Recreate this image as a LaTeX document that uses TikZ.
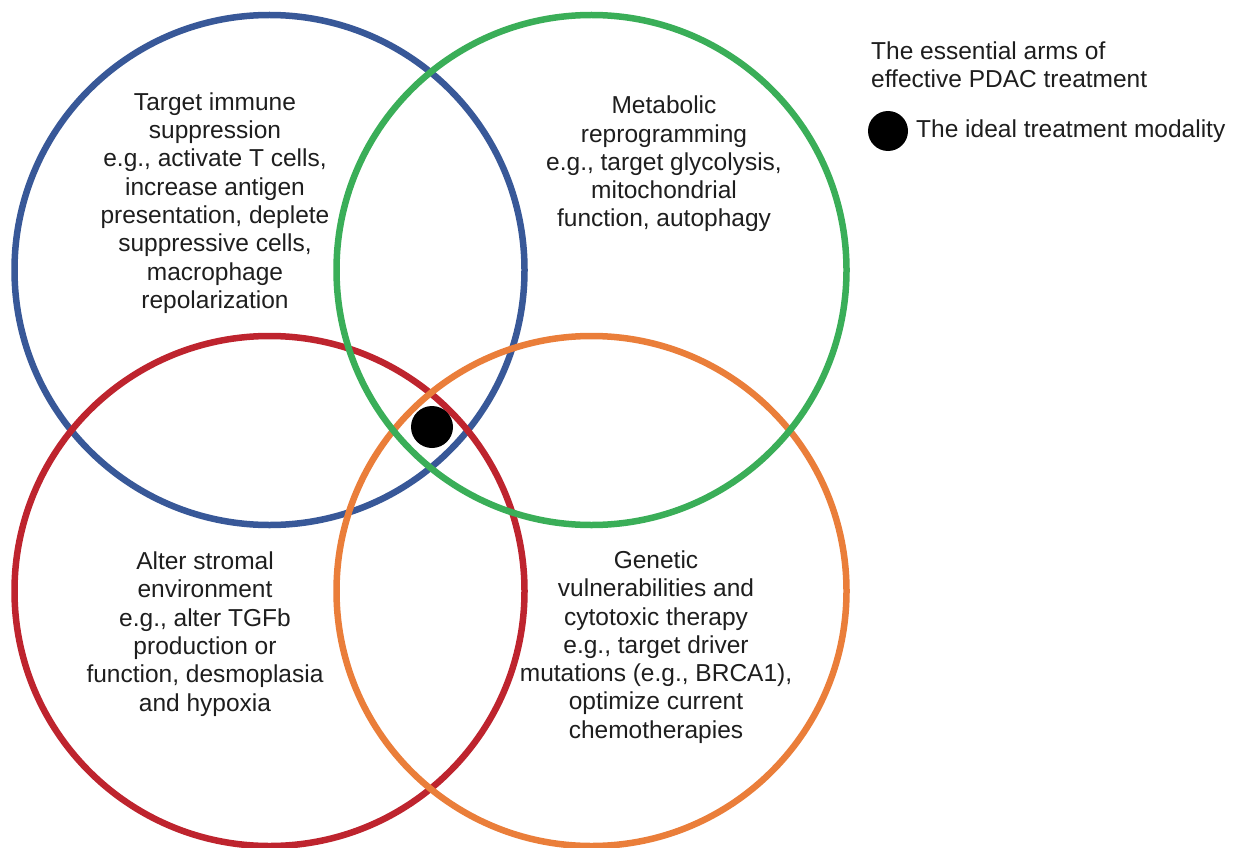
\documentclass[tikz,border=0pt]{standalone}
\usepackage{fontspec}
\setmainfont{Liberation Sans}
\definecolor{cblue}{RGB}{56,88,152}
\definecolor{cgreen}{RGB}{58,174,88}
\definecolor{cred}{RGB}{190,36,46}
\definecolor{corange}{RGB}{234,126,58}
\definecolor{ctext}{RGB}{30,30,30}
\tikzset{
  ring/.style={line width=6.5pt},
  armtext/.style={align=center, text=ctext, font=\fontsize{24.5}{28.3}\selectfont, inner sep=0pt},
  legtext/.style={align=left, text=ctext, font=\fontsize{24.5}{28.3}\selectfont, inner sep=0pt},
  dot/.style={circle, fill=black, inner sep=0pt}
}
\begin{document}
\begin{tikzpicture}[x=1pt,y=-1pt]
\useasboundingbox (0,0) rectangle (1244,848);
\draw[ring, cblue] (269.5,270) circle (255);
\draw[ring, cred] (269.5,591) circle (255);
\draw[ring, corange] (591.5,591) circle (255);
\draw[ring, cgreen] (591.5,270) circle (255);
\node[dot, minimum size=42pt] (ideal) at (432,427) {};
\node[armtext] (immune) at (215,203) {Target immune\\suppression\\e.g., activate T cells,\\increase antigen\\presentation, deplete\\suppressive cells,\\macrophage\\repolarization};
\node[armtext] (metab) at (664,164) {Metabolic\\reprogramming\\e.g., target glycolysis,\\mitochondrial\\function, autophagy};
\node[armtext] (stroma) at (205,634) {Alter stromal\\environment\\e.g., alter TGFb\\production or\\function, desmoplasia\\and hypoxia};
\node[armtext] (genetic) at (656,647) {Genetic\\vulnerabilities and\\cytotoxic therapy\\e.g., target driver\\mutations (e.g., BRCA1),\\optimize current\\chemotherapies};
\node[legtext, anchor=west] (legtitle) at (871,65) {The essential arms of\\effective PDAC treatment};
\node[dot, minimum size=40pt] (legdot) at (888,131) {};
\node[legtext, anchor=west] (legitem) at (916,131) {The ideal treatment modality};
\end{tikzpicture}
\end{document}
